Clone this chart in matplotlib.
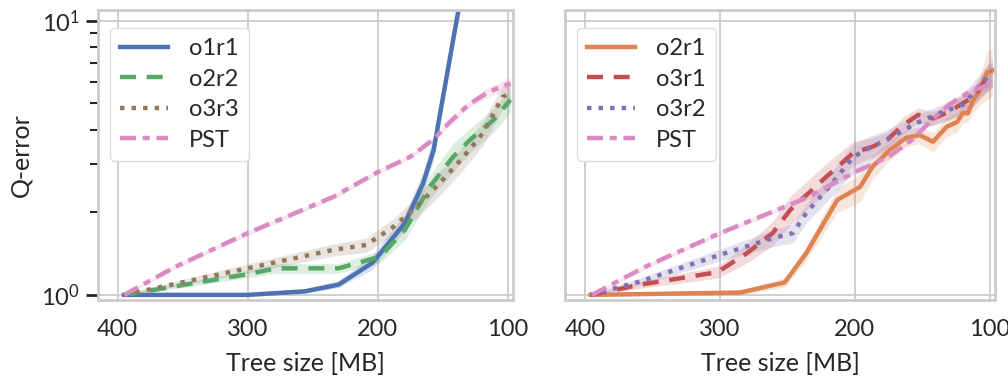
import numpy as np
import matplotlib
matplotlib.use("Agg")
import matplotlib.pyplot as plt
from matplotlib.ticker import LogLocator, NullFormatter

# values
x_o1r1 = [395, 300, 256, 230, 204, 179, 165, 157, 138, 120]
y_o1r1 = [1.0, 1.0, 1.03, 1.09, 1.31, 1.83, 2.56, 3.38, 10.9, 30.0]
s_o1r1 = [0.01, 0.01, 0.02, 0.03, 0.06, 0.07, 0.09, 0.10, 0.10, 0.10]

x_o2r2 = [395, 300, 278, 230, 198, 179, 160, 142, 129, 111, 98]
y_o2r2 = [1.0, 1.19, 1.25, 1.25, 1.38, 1.73, 2.48, 3.19, 3.68, 4.35, 5.15]
s_o2r2 = [0.01, 0.03, 0.04, 0.04, 0.05, 0.08, 0.10, 0.12, 0.10, 0.10, 0.10]

x_o3r3 = [395, 300, 234, 209, 188, 170, 150, 134, 119, 104, 98]
y_o3r3 = [1.0, 1.25, 1.46, 1.52, 1.77, 2.10, 2.63, 3.19, 3.90, 5.28, 5.45]
s_o3r3 = [0.01, 0.04, 0.05, 0.06, 0.07, 0.09, 0.10, 0.10, 0.10, 0.10, 0.10]

x_pst = [395, 355, 300, 234, 201, 175, 157, 145, 130, 115, 101, 98]
y_pst = [1.0, 1.27, 1.68, 2.28, 2.79, 3.19, 3.70, 4.25, 4.95, 5.5, 5.84, 5.9]
s_pst = [0.01, 0.02, 0.02, 0.02, 0.02, 0.02, 0.02, 0.03, 0.03, 0.04, 0.05, 0.05]

x_o2r1 = [396, 285, 252, 236, 213, 196, 187, 174, 162, 152, 142, 132, 124, 120, 116, 112, 107, 102, 98]
y_o2r1 = [1.0, 1.02, 1.11, 1.42, 2.22, 2.48, 2.93, 3.38, 3.74, 3.83, 3.62, 4.10, 4.28, 4.6, 4.6, 5.15, 5.6, 6.45, 6.6]
s_o2r1 = [0.01, 0.02, 0.04, 0.06, 0.10, 0.12, 0.10, 0.08, 0.07, 0.07, 0.08, 0.08, 0.08, 0.08, 0.08, 0.10, 0.12, 0.20, 0.20]

x_o3r1 = [396, 359, 302, 280, 261, 248, 221, 201, 187, 176, 164, 153, 142, 130, 112, 102, 98]
y_o3r1 = [1.0, 1.09, 1.21, 1.42, 1.68, 2.04, 2.70, 3.30, 3.47, 3.68, 4.17, 4.54, 4.4, 4.66, 5.28, 6.2, 6.4]
s_o3r1 = [0.01, 0.03, 0.05, 0.08, 0.10, 0.12, 0.12, 0.10, 0.08, 0.07, 0.07, 0.06, 0.06, 0.07, 0.08, 0.10, 0.10]

x_o3r2 = [396, 359, 300, 261, 246, 236, 219, 201, 189, 172, 154, 137, 120, 110, 98]
y_o3r2 = [1.0, 1.12, 1.40, 1.61, 1.68, 1.99, 2.48, 3.19, 3.44, 3.78, 4.24, 4.6, 4.94, 5.6, 6.5]
s_o3r2 = [0.01, 0.03, 0.05, 0.07, 0.08, 0.08, 0.10, 0.12, 0.10, 0.08, 0.07, 0.07, 0.08, 0.10, 0.12]

xticks = [400, 300, 200, 100]

col = {"o1r1": "#4C72B0", "o2r1": "#DD8452", "o2r2": "#55A868", "o3r1": "#C44E52",
       "o3r2": "#8172B3", "o3r3": "#937860", "PST": "#DA8BC3"}

plt.rcParams["font.family"] = ["Lato", "DejaVu Sans"]
plt.rcParams["mathtext.default"] = "regular"
plt.rcParams["text.color"] = "#262626"
plt.rcParams["axes.labelcolor"] = "#262626"
plt.rcParams["xtick.color"] = "#262626"
plt.rcParams["ytick.color"] = "#262626"

fig = plt.figure(figsize=(10.08, 3.83), dpi=100)
ax1 = fig.add_axes([98 / 1008, 83 / 383, 415 / 1008, 290 / 383])
ax2 = fig.add_axes([565 / 1008, 83 / 383, 430 / 1008, 290 / 383], sharey=ax1)

dash = (0, (3.6, 2.4))
dot = (0, (1, 1.6))
dashdot = (0, (3.6, 1.5, 1.6, 1.5))

left = [("o1r1", x_o1r1, y_o1r1, s_o1r1, "-"),
        ("o2r2", x_o2r2, y_o2r2, s_o2r2, dash),
        ("o3r3", x_o3r3, y_o3r3, s_o3r3, dot),
        ("PST", x_pst, y_pst, s_pst, dashdot)]
right = [("o2r1", x_o2r1, y_o2r1, s_o2r1, "-"),
         ("o3r1", x_o3r1, y_o3r1, s_o3r1, dash),
         ("o3r2", x_o3r2, y_o3r2, s_o3r2, dot),
         ("PST", x_pst, y_pst, s_pst, dashdot)]

for ax, series in [(ax1, left), (ax2, right)]:
    for name, xs, ys, ss, ls in series:
        xs = np.array(xs, float)
        ys = np.array(ys, float)
        ss = np.array(ss, float)
        ax.fill_between(xs, ys * (1 - ss), ys * (1 + ss), color=col[name], alpha=0.2, lw=0)
        ax.plot(xs, ys, color=col[name], lw=3.2, ls=ls, label=name)
    ax.set_yscale("log")
    ax.set_xlim(415, 96)
    ax.set_ylim(0.958, 10.95)
    ax.set_xticks(xticks)
    ax.grid(True, which="major", color="#cccccc", lw=1.3)
    ax.set_axisbelow(True)
    for sp in ax.spines.values():
        sp.set_color("#cccccc")
        sp.set_linewidth(2)
    ax.tick_params(axis="x", length=0, labelsize=17, pad=14)
    ax.set_xlabel("Tree size [MB]", fontsize=18, labelpad=8)
    leg = ax.legend(loc="upper left", fontsize=17, handlelength=2.0, labelspacing=0.4,
                    borderpad=0.45, handletextpad=0.9, bbox_to_anchor=(0.0, 0.98),
                    framealpha=1)
    leg.get_frame().set_edgecolor("#dddddd")

ax1.yaxis.set_major_locator(LogLocator(base=10))
ax1.yaxis.set_minor_locator(LogLocator(base=10, subs=np.arange(2, 10)))
ax1.yaxis.set_minor_formatter(NullFormatter())
ax1.tick_params(axis="y", which="major", length=9, width=2, labelsize=17, pad=4)
ax1.tick_params(axis="y", which="minor", length=6, width=1.5)
ax1.set_ylabel("Q-error", fontsize=18, labelpad=6)

ax2.tick_params(axis="y", which="both", length=0, labelleft=False)

fig.savefig("out.png", dpi=100)
